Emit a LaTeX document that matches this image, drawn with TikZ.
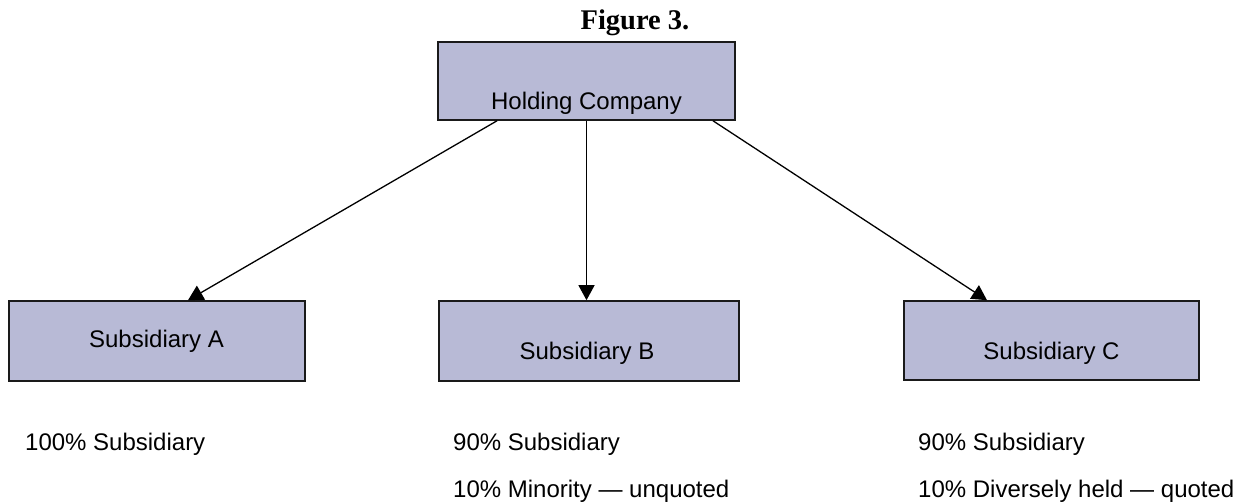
\documentclass[tikz,border=0pt]{standalone}
\usepackage{fontspec}
\setmainfont{Liberation Sans}
\newfontfamily\titlefont{Liberation Serif}
\usetikzlibrary{arrows.meta}
\definecolor{boxfill}{HTML}{B8BAD6}
\definecolor{boxline}{HTML}{1A1A1A}
\tikzset{
  orgbox/.style={draw=boxline, line width=1.6pt, fill=boxfill, inner sep=0pt},
  lbl/.style={inner sep=0pt, font=\fontsize{24}{28}\selectfont},
  arr/.style={line width=1.3pt, -{Triangle[length=15pt,width=16pt]}, shorten >=0pt}
}
\begin{document}
\begin{tikzpicture}[x=1pt,y=-1pt]
\useasboundingbox (0,0) rectangle (1243,502);
% title
\node[inner sep=0pt, anchor=base, font=\titlefont\bfseries\fontsize{28.5}{32}\selectfont] (title) at (635,30) {Figure 3.};
% boxes
\node[orgbox, minimum width=297pt, minimum height=78pt] (hc) at (586.5,81) {};
\node[orgbox, minimum width=296pt, minimum height=80pt] (sa) at (157,341) {};
\node[orgbox, minimum width=300pt, minimum height=80pt] (sb) at (589,341) {};
\node[orgbox, minimum width=295pt, minimum height=79pt] (sc) at (1051.5,340.5) {};
% box labels
\node[lbl, anchor=base] (hct) at (586.5,110) {Holding Company};
\node[lbl, anchor=base] (sat) at (156.5,348) {Subsidiary A};
\node[lbl, anchor=base] (sbt) at (587,360) {Subsidiary B};
\node[lbl, anchor=base] (sct) at (1051.5,360) {Subsidiary C};
% connectors
\coordinate (hA) at ([xshift=-89.5pt]hc.south);
\coordinate (hC) at ([xshift=126.5pt]hc.south);
\coordinate (tA) at ([xshift=31pt]sa.north);
\coordinate (tC) at ([xshift=-64.5pt]sc.north);
\draw[arr] (hA) -- (tA);
\draw[arr] (hc.south) -- (hc.south |- sb.north);
\draw[arr] (hC) -- (tC);
% notes
\node[lbl, anchor=base west] (na) at (25,451) {100\% Subsidiary};
\node[lbl, anchor=base west] (nb1) at (453,451) {90\% Subsidiary};
\node[lbl, anchor=base west] (nb2) at (453,497) {10\% Minority — unquoted};
\node[lbl, anchor=base west] (nc1) at (918,451) {90\% Subsidiary};
\node[lbl, anchor=base west] (nc2) at (918,497) {10\% Diversely held — quoted};
\end{tikzpicture}
\end{document}
